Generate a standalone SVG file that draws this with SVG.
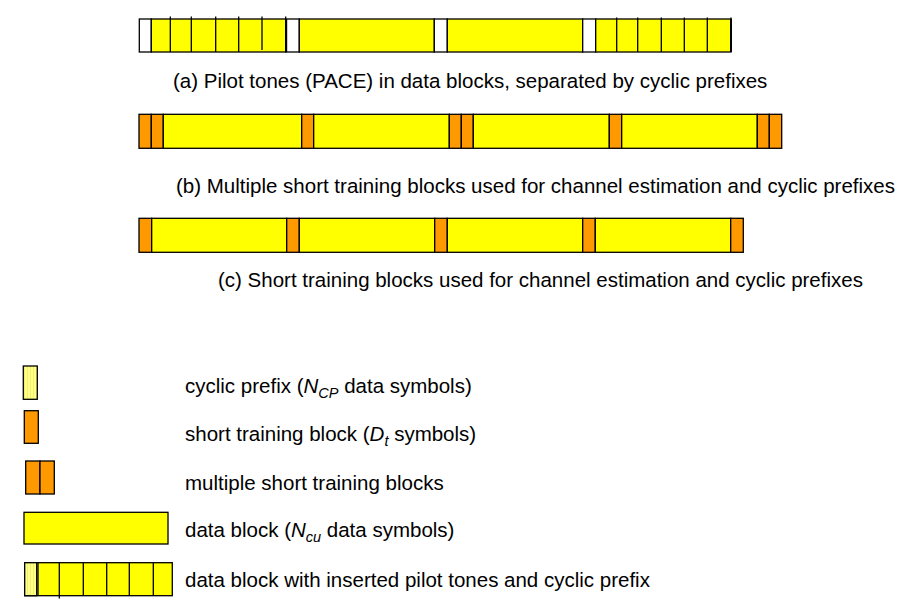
<svg xmlns="http://www.w3.org/2000/svg" width="903" height="604" viewBox="0 0 903 604">
<defs>
<pattern id="stripe" width="3" height="10" patternUnits="userSpaceOnUse">
<rect width="3" height="10" fill="#ffff90"/>
<rect width="1" height="10" fill="#f2f260"/>
</pattern>
</defs>
<style>
.y{fill:#ffff00;stroke:#000;stroke-width:1.3}
.o{fill:#ff9900;stroke:#000;stroke-width:1.3}
.w{fill:#ffffff;stroke:#000;stroke-width:1.3}
.cp{fill:url(#stripe);stroke:#000;stroke-width:1.3}
.l{stroke:#000;stroke-width:1.3;fill:none}
text{font-family:"Liberation Sans",Arial,sans-serif;font-size:20.5px;fill:#000}
.i{font-style:italic}
</style>
<rect width="903" height="604" fill="#fff"/>

<g id="rowA">
<rect class="w" x="139.3" y="19" width="12" height="33"/>
<rect class="y" x="151.3" y="19" width="134.4" height="33"/>
<path class="l" d="M170.3 16.5V52M191.3 16.5V52M215.7 16.5V52M238.7 16.5V52M262 16.5V50M285.7 16.5V52"/>
<rect class="w" x="285.7" y="19" width="13.6" height="33"/>
<rect class="y" x="299.3" y="19" width="135" height="33"/>
<rect class="w" x="434.3" y="19" width="13" height="33"/>
<rect class="y" x="447.3" y="19" width="135.4" height="33"/>
<rect class="w" x="582.7" y="19" width="13" height="33"/>
<rect class="y" x="595.7" y="19" width="135.3" height="33"/>
<path class="l" d="M616.7 17.5V52M637.7 17.5V52M661.3 17.5V52M684.3 17.5V52M707.3 17.5V52M731 17.5V52"/>
<path d="M286.2 19V52" stroke="#000" stroke-width="2"/>
<path d="M731 19V52" stroke="#000" stroke-width="2"/>
</g>

<g id="rowB">
<rect class="o" x="139" y="114.3" width="12.3" height="34"/>
<rect class="o" x="151.3" y="114.3" width="12" height="34"/>
<rect class="y" x="163.3" y="114.3" width="138.4" height="34"/>
<rect class="o" x="301.7" y="114.3" width="12" height="34"/>
<rect class="y" x="313.7" y="114.3" width="135.6" height="34"/>
<rect class="o" x="449.3" y="114.3" width="12" height="34"/>
<rect class="o" x="461.3" y="114.3" width="12" height="34"/>
<rect class="y" x="473.3" y="114.3" width="136" height="34"/>
<rect class="o" x="609.3" y="114.3" width="12.4" height="34"/>
<rect class="y" x="621.7" y="114.3" width="135.6" height="34"/>
<rect class="o" x="757.3" y="114.3" width="12" height="34"/>
<rect class="o" x="769.3" y="114.3" width="12.4" height="34"/>
</g>

<g id="rowC">
<rect class="o" x="139" y="218.3" width="12.7" height="34"/>
<rect class="y" x="151.7" y="218.3" width="135" height="34"/>
<rect class="o" x="286.7" y="218.3" width="12.6" height="34"/>
<rect class="y" x="299.3" y="218.3" width="135.4" height="34"/>
<rect class="o" x="434.7" y="218.3" width="12.6" height="34"/>
<rect class="y" x="447.3" y="218.3" width="135.4" height="34"/>
<rect class="o" x="582.7" y="218.3" width="12.6" height="34"/>
<rect class="y" x="595.3" y="218.3" width="135.4" height="34"/>
<rect class="o" x="730.7" y="218.3" width="12.6" height="34"/>
</g>

<g id="captions">
<text x="173" y="88">(a) Pilot tones (PACE) in data blocks, separated by cyclic prefixes</text>
<text x="176" y="193">(b) Multiple short training blocks used for channel estimation and cyclic prefixes</text>
<text x="218" y="287">(c) Short training blocks used for channel estimation and cyclic prefixes</text>
</g>

<g id="legend-cp">
<rect class="cp" x="23.3" y="366" width="14" height="33.3"/>
<text x="185" y="393">cyclic prefix (<tspan class="i">N</tspan><tspan class="i" font-size="14.5" dy="5">CP</tspan><tspan dy="-5"> data symbols)</tspan></text>
</g>
<g id="legend-st">
<rect class="o" x="24.3" y="410.7" width="14" height="32.6"/>
<text x="185" y="441">short training block (<tspan class="i">D</tspan><tspan class="i" font-size="14.5" dy="5">t</tspan><tspan dy="-5"> symbols)</tspan></text>
</g>
<g id="legend-mst">
<rect class="o" x="25.7" y="461" width="14.3" height="33"/>
<rect class="o" x="40" y="461" width="14.3" height="33"/>
<text x="185" y="490">multiple short training blocks</text>
</g>
<g id="legend-db">
<rect class="y" x="24" y="512.3" width="144" height="31.7"/>
<text x="185" y="537">data block (<tspan class="i">N</tspan><tspan class="i" font-size="14.5" dy="5">cu</tspan><tspan dy="-5"> data symbols)</tspan></text>
</g>
<g id="legend-pdb">
<rect class="y" x="24.7" y="562.7" width="147.6" height="33"/>
<rect class="cp" x="24.7" y="562.7" width="12" height="33"/>
<path class="l" d="M38 562.7V595.7M59.3 562.7V598.5M83.3 562.7V595.7M106.7 562.7V595.7M129.3 562.7V595.7M153.3 562.7V595.7"/>
<text x="185" y="587">data block with inserted pilot tones and cyclic prefix</text>
</g>
</svg>
